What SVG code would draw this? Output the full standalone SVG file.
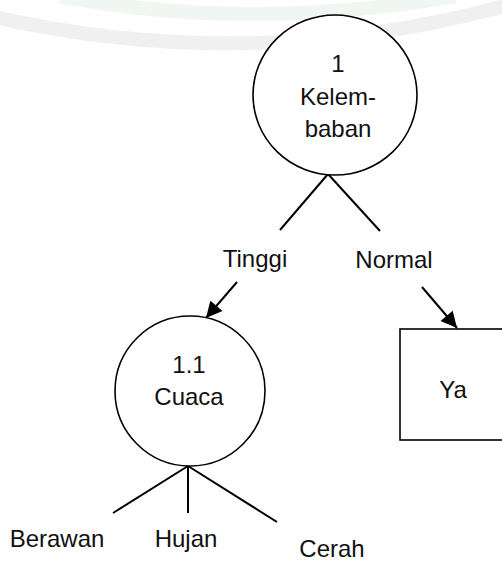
<svg xmlns="http://www.w3.org/2000/svg" width="502" height="561" viewBox="0 0 502 561">
<style>
  .lbl { font-family: "Liberation Sans", Arial, sans-serif; font-size: 24px; fill: #111111; text-anchor: middle; }
  .shape { fill: #ffffff; stroke: #000000; stroke-width: 1.6; }
  .ln { stroke: #000000; stroke-width: 2; fill: none; }
  .wm { fill: none; stroke-linecap: butt; }
</style>
<defs>
  <marker id="ah" viewBox="0 0 10 10" refX="10" refY="5" markerWidth="8.5" markerHeight="8" markerUnits="strokeWidth" orient="auto">
    <path d="M0,0 L10,5 L0,10 Z" fill="#000000"/>
  </marker>
</defs>
<rect width="502" height="561" fill="#ffffff"/>
<g id="watermark">
  <path class="wm" d="M 60 -4 Q 250 32 455 -4" stroke="#f0f6f2" stroke-width="14"/>
  <path class="wm" d="M -10 16 Q 250 76 512 4" stroke="#f0f0f0" stroke-width="14"/>
</g>
<g id="connectors">
  <line class="ln" x1="328" y1="174" x2="280" y2="230"/>
  <line class="ln" x1="328" y1="174" x2="380" y2="231"/>
  <line class="ln" x1="237" y1="282" x2="206" y2="318" marker-end="url(#ah)"/>
  <line class="ln" x1="422" y1="287" x2="457" y2="328" marker-end="url(#ah)"/>
  <line class="ln" x1="188" y1="466" x2="113" y2="513"/>
  <line class="ln" x1="188" y1="466" x2="188" y2="513"/>
  <line class="ln" x1="188" y1="466" x2="277" y2="522"/>
</g>
<g id="node-1">
  <ellipse class="shape" cx="335" cy="95" rx="82" ry="80"/>
  <text class="lbl" x="338" y="72">1</text>
  <text class="lbl" x="338" y="105">Kelem-</text>
  <text class="lbl" x="338" y="137">baban</text>
</g>
<g id="node-1-1">
  <circle class="shape" cx="190" cy="391" r="75"/>
  <text class="lbl" x="189" y="373">1.1</text>
  <text class="lbl" x="189" y="405">Cuaca</text>
</g>
<g id="node-ya">
  <rect class="shape" x="400" y="329" width="110" height="111"/>
  <text class="lbl" x="453" y="398">Ya</text>
</g>
<g id="labels">
  <text class="lbl" x="255" y="267">Tinggi</text>
  <text class="lbl" x="394" y="268">Normal</text>
  <text class="lbl" x="57" y="547">Berawan</text>
  <text class="lbl" x="186" y="547">Hujan</text>
  <text class="lbl" x="332" y="557">Cerah</text>
</g>
</svg>
